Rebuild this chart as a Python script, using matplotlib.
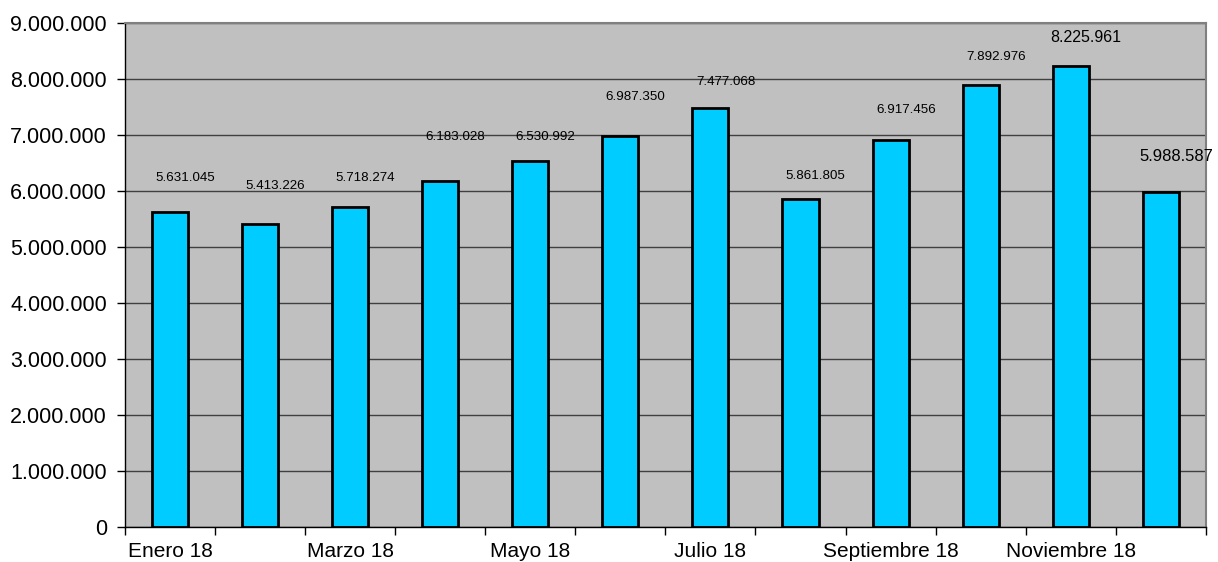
import numpy as np
import matplotlib.pyplot as plt
from matplotlib.ticker import FuncFormatter

plt.rcParams['font.family'] = ['Liberation Sans', 'DejaVu Sans']

months = ['Enero 18', 'Febrero 18', 'Marzo 18', 'Abril 18', 'Mayo 18', 'Junio 18',
          'Julio 18', 'Agosto 18', 'Septiembre 18', 'Octubre 18', 'Noviembre 18', 'Diciembre 18']
values = [5631045, 5413226, 5718274, 6183028, 6530992, 6987350,
          7477068, 5861805, 6917456, 7892976, 8225961, 5988587]
# where Excel put the data labels (data units)
label_y = [6.23e6, 6.09e6, 6.23e6, 6.96e6, 6.96e6, 7.68e6,
           7.95e6, 6.27e6, 7.45e6, 8.39e6, 8.75e6, 6.61e6]
label_size = [9.6] * 10 + [11.5, 12]


def fmt_es(v, pos=None):
    return f'{int(v):,}'.replace(',', '.')


fig = plt.figure(figsize=(12.18, 5.62), dpi=100)
ax = fig.add_axes([0.1026, 0.0623, 0.8874, 0.8967])
ax.set_facecolor('#C0C0C0')

x = np.arange(len(months))
ax.bar(x, values, width=0.4, color='#00CCFF', edgecolor='black', linewidth=2, zorder=3)

# labels sit a little to the right of the bars, like in the Excel original
for xi, v, ly, fs in zip(x, values, label_y, label_size):
    ax.text(xi + 0.17, ly, fmt_es(v), ha='center', va='center', fontsize=fs, zorder=4)

ax.set_xlim(-0.5, len(months) - 0.5)
ax.set_ylim(0, 9000000)
ax.set_yticks(np.arange(0, 9000001, 1000000))
ax.yaxis.set_major_formatter(FuncFormatter(fmt_es))
ax.grid(axis='y', color='#404040', linewidth=1, zorder=1)

# ticks on category boundaries, labels on every other category
ax.set_xticks(np.arange(-0.5, len(months), 1))
ax.set_xticklabels([])
ax.set_xticks(x[::2], labels=months[::2], minor=True)
ax.tick_params(axis='x', which='major', length=6, width=1, direction='out')
ax.tick_params(axis='x', which='minor', length=0, labelsize=15, pad=11)
ax.tick_params(axis='y', length=6, width=1, labelsize=15.5, pad=7)

for side in ['top', 'right']:
    ax.spines[side].set_color('#808080')
    ax.spines[side].set_linewidth(1.5)
for side in ['left', 'bottom']:
    ax.spines[side].set_color('black')
    ax.spines[side].set_linewidth(1)
ax.spines['bottom'].set_zorder(5)

fig.savefig('out.png', dpi=100)
